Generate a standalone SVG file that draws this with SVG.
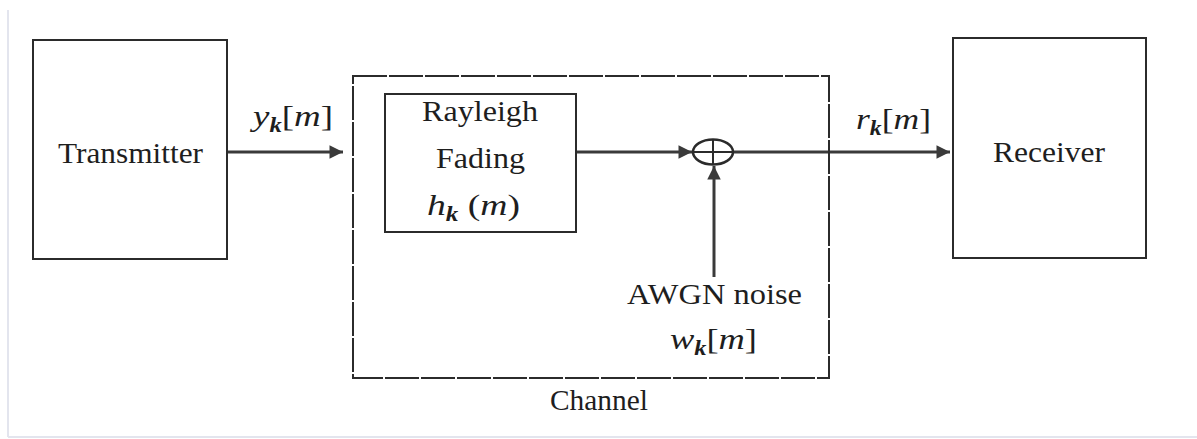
<svg xmlns="http://www.w3.org/2000/svg" width="1197" height="439" viewBox="0 0 1197 439">
<style>
.box{fill:none;stroke:#2b2b2b;stroke-width:2}
.dash{fill:none;stroke:#2b2b2b;stroke-width:2;stroke-dasharray:34 2}
.wire{fill:none;stroke:#3a3a3a;stroke-width:3}
.t{font-family:'Liberation Serif','DejaVu Serif',serif;font-size:29px;fill:#1e1e1e}
.m{font-family:'Liberation Serif','DejaVu Serif',serif;font-style:italic;font-size:30px;fill:#1e1e1e}
.up{font-style:normal}
.sub{font-size:20px;font-weight:bold}
.edge{stroke:#e3e5ee;stroke-width:2}
</style>
<defs>
<marker id="ah" viewBox="0 0 10 10" refX="10" refY="5" markerWidth="5.5" markerHeight="4.5" markerUnits="strokeWidth" orient="auto">
<path d="M0,0 L10,5 L0,10 z" fill="#3a3a3a"/>
</marker>
</defs>
<rect width="1197" height="439" fill="#fff"/>
<line class="edge" x1="8" y1="10" x2="8" y2="437"/>
<line class="edge" x1="8" y1="437" x2="1197" y2="437"/>

<g id="connectors">
<line class="wire" x1="227" y1="152" x2="343" y2="152" marker-end="url(#ah)"/>
<line class="wire" x1="576" y1="152" x2="692" y2="152" marker-end="url(#ah)"/>
<line class="wire" x1="734" y1="152" x2="950" y2="152" marker-end="url(#ah)"/>
<line class="wire" x1="714" y1="277" x2="714" y2="166" marker-end="url(#ah)"/>
<text class="m" x="253" y="126" textLength="80" lengthAdjust="spacingAndGlyphs">y<tspan class="sub" dy="6">k</tspan><tspan class="up" dy="-6">[</tspan>m<tspan class="up">]</tspan></text>
<text class="m" x="856" y="129" textLength="75" lengthAdjust="spacingAndGlyphs">r<tspan class="sub" dy="6">k</tspan><tspan class="up" dy="-6">[</tspan>m<tspan class="up">]</tspan></text>
</g>

<g id="transmitter">
<rect class="box" x="33" y="40" width="194" height="219"/>
<text class="t" x="58" y="163" textLength="145" lengthAdjust="spacingAndGlyphs">Transmitter</text>
</g>

<g id="channel">
<rect class="dash" x="353" y="76" width="476" height="302"/>
<text class="t" x="550" y="410" textLength="98" lengthAdjust="spacingAndGlyphs">Channel</text>
</g>

<g id="rayleigh">
<rect class="box" x="385" y="94" width="191" height="138"/>
<text class="t" x="422" y="121" textLength="116" lengthAdjust="spacingAndGlyphs">Rayleigh</text>
<text class="t" x="436" y="168" textLength="89" lengthAdjust="spacingAndGlyphs">Fading</text>
<text class="m" x="427" y="215" textLength="93" lengthAdjust="spacingAndGlyphs">h<tspan class="sub" dy="6">k</tspan><tspan class="up" dy="-6"> (</tspan>m<tspan class="up">)</tspan></text>
</g>

<g id="adder">
<ellipse cx="713" cy="152" rx="20" ry="12.5" fill="none" stroke="#2b2b2b" stroke-width="2.5"/>
<line x1="693" y1="152" x2="733" y2="152" stroke="#2b2b2b" stroke-width="2"/>
<line x1="713" y1="139.5" x2="713" y2="164.5" stroke="#2b2b2b" stroke-width="2"/>
</g>

<g id="noise">
<text class="t" x="627" y="304" textLength="175" lengthAdjust="spacingAndGlyphs">AWGN noise</text>
<text class="m" x="670" y="349" textLength="87" lengthAdjust="spacingAndGlyphs">w<tspan class="sub" dy="6">k</tspan><tspan class="up" dy="-6">[</tspan>m<tspan class="up">]</tspan></text>
</g>

<g id="receiver">
<rect class="box" x="953" y="38" width="193" height="220"/>
<text class="t" x="993" y="162" textLength="112" lengthAdjust="spacingAndGlyphs">Receiver</text>
</g>
</svg>
